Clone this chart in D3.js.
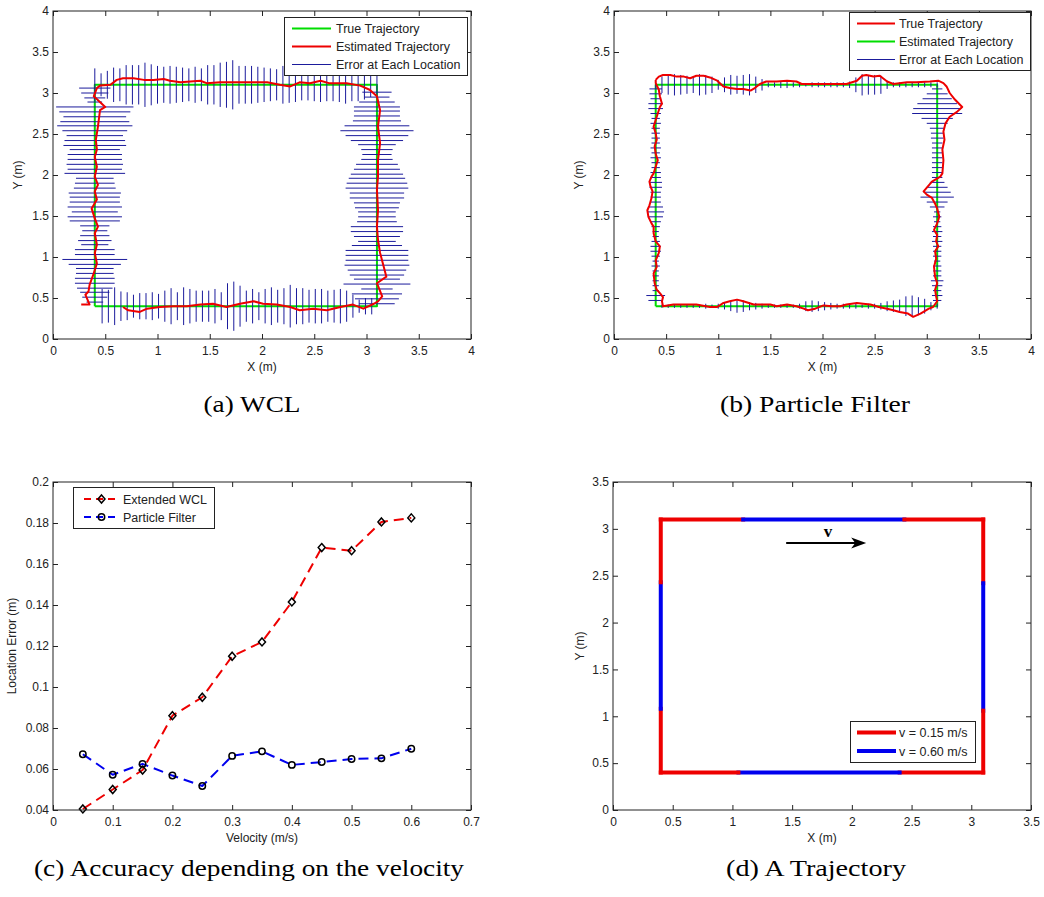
<!DOCTYPE html>
<html><head><meta charset="utf-8">
<script src="https://cdn.jsdelivr.net/npm/d3@7"></script>
<style>
body{margin:0;background:#fff;}
svg{display:block;}
</style></head><body>
<svg id="fig" width="1044" height="897"></svg>
<script>
// ---------- tick values / labels ----------
const squareTicks = [0, 0.5, 1, 1.5, 2, 2.5, 3, 3.5, 4];
const squareTickLabels = ["0", "0.5", "1", "1.5", "2", "2.5", "3", "3.5", "4"];
const dTicks = [0, 0.5, 1, 1.5, 2, 2.5, 3, 3.5];
const dTickLabels = ["0", "0.5", "1", "1.5", "2", "2.5", "3", "3.5"];
const cXTicks = [0, 0.1, 0.2, 0.3, 0.4, 0.5, 0.6, 0.7];
const cXTickLabels = ["0", "0.1", "0.2", "0.3", "0.4", "0.5", "0.6", "0.7"];
const cYTicks = [0.04, 0.06, 0.08, 0.10, 0.12, 0.14, 0.16, 0.18, 0.20];
const cYTickLabels = ["0.04", "0.06", "0.08", "0.1", "0.12", "0.14", "0.16", "0.18", "0.2"];

// ---------- panel (a) WCL ----------
const aTrueX = [0.4, 0.4, 3.1, 3.1, 0.4];
const aTrueY = [0.4, 3.1, 3.1, 0.4, 0.4];
const aEstimated = [[0.27,0.42],[0.35,0.42],[0.31,0.54],[0.34,0.58],[0.35,0.66],[0.39,0.80],[0.42,0.92],[0.40,1.05],[0.42,1.15],[0.40,1.29],
 [0.43,1.37],[0.40,1.47],[0.37,1.59],[0.42,1.70],[0.40,1.80],[0.43,1.88],[0.40,1.98],[0.42,2.10],[0.40,2.22],[0.42,2.31],
 [0.41,2.43],[0.43,2.59],[0.45,2.79],[0.50,2.83],[0.39,2.96],[0.42,3.06],[0.45,3.09],[0.55,3.10],[0.61,3.16],[0.67,3.18],
 [0.77,3.18],[0.87,3.16],[0.96,3.16],[1.06,3.17],[1.12,3.15],[1.22,3.13],[1.41,3.15],[1.47,3.12],[1.60,3.13],[1.73,3.13],
 [1.89,3.13],[2.05,3.13],[2.17,3.10],[2.27,3.08],[2.36,3.13],[2.46,3.12],[2.56,3.15],[2.64,3.12],[2.81,3.12],[2.94,3.09],
 [3.03,3.04],[3.10,2.96],[3.13,2.79],[3.11,2.59],[3.13,2.39],[3.11,2.18],[3.11,1.98],[3.10,1.82],[3.11,1.57],[3.10,1.37],
 [3.11,1.21],[3.13,1.05],[3.19,0.76],[3.10,0.68],[3.15,0.52],[3.11,0.46],[3.07,0.43],[2.97,0.37],[2.87,0.42],[2.75,0.39],
 [2.62,0.35],[2.49,0.37],[2.36,0.35],[2.27,0.39],[2.14,0.42],[2.01,0.43],[1.92,0.46],[1.79,0.43],[1.66,0.39],[1.53,0.43],
 [1.41,0.42],[1.28,0.40],[1.15,0.40],[1.02,0.39],[0.90,0.37],[0.83,0.33],[0.72,0.35],[0.67,0.39]];
const aTopBarX = [0.40,0.46,0.52,0.58,0.64,0.70,0.76,0.82,0.88,0.94,1.00,1.06,1.12,1.18,1.24,1.30,1.36,1.42,1.48,1.54,1.60,1.66,1.72,
 1.78,1.84,1.90,1.96,2.02,2.08,2.14,2.20,2.26,2.32,2.38,2.44,2.50,2.56,2.62,2.68,2.74,2.80,2.86,2.92,2.98,3.04,3.10];
const aTopBarErr = [0.20,0.14,0.17,0.21,0.20,0.24,0.24,0.24,0.27,0.25,0.23,0.22,0.23,0.22,0.21,0.20,0.22,0.20,0.24,0.24,0.27,0.28,0.30,
 0.23,0.23,0.23,0.22,0.21,0.20,0.19,0.23,0.22,0.21,0.19,0.19,0.20,0.21,0.20,0.20,0.21,0.23,0.20,0.20,0.18,0.15,0.13];
const aBottomBarX = [0.47,0.53,0.59,0.65,0.71,0.77,0.83,0.89,0.95,1.01,1.07,1.13,1.19,1.25,1.31,1.37,1.43,1.49,1.55,1.61,1.67,1.73,
 1.79,1.85,1.91,1.97,2.03,2.09,2.15,2.21,2.27,2.33,2.39,2.45,2.51,2.57,2.63,2.69,2.75,2.81,2.87,2.93,2.99,3.05];
const aBottomBarErr = [0.21,0.20,0.23,0.18,0.17,0.14,0.16,0.16,0.17,0.15,0.19,0.22,0.17,0.23,0.21,0.19,0.19,0.19,0.21,0.17,0.28,0.30,
 0.25,0.19,0.21,0.17,0.21,0.23,0.20,0.22,0.26,0.22,0.22,0.20,0.21,0.21,0.19,0.20,0.21,0.19,0.14,0.08,0.10,0.10];
const aLeftBarY = [3.06,3.00,2.94,2.89,2.83,2.77,2.71,2.65,2.60,2.54,2.48,2.42,2.36,2.31,2.25,2.19,2.13,2.07,2.02,1.96,1.90,1.84,1.78,
 1.73,1.67,1.61,1.55,1.49,1.44,1.38,1.32,1.26,1.20,1.15,1.09,1.03,0.97,0.91,0.86,0.80,0.74,0.68,0.62,0.57,0.51,0.45];
const aLeftBarErr = [0.15,0.13,0.10,0.07,0.37,0.34,0.30,0.33,0.36,0.31,0.27,0.29,0.30,0.24,0.26,0.26,0.27,0.26,0.29,0.18,0.19,0.20,0.25,
 0.24,0.24,0.26,0.22,0.26,0.24,0.14,0.12,0.14,0.16,0.13,0.19,0.19,0.31,0.25,0.18,0.18,0.19,0.19,0.17,0.14,0.12,0.08];
const aRightBarY = [3.01,2.95,2.89,2.83,2.78,2.72,2.66,2.60,2.54,2.48,2.42,2.37,2.31,2.25,2.19,2.13,2.07,2.01,1.96,1.90,1.84,1.78,1.72,
 1.66,1.60,1.55,1.49,1.43,1.37,1.31,1.25,1.19,1.14,1.08,1.02,0.96,0.90,0.84,0.78,0.73,0.67,0.61,0.55,0.49,0.43];
const aRightBarErr = [0.14,0.12,0.17,0.22,0.22,0.22,0.23,0.31,0.35,0.30,0.25,0.18,0.15,0.14,0.15,0.20,0.22,0.25,0.27,0.29,0.30,0.26,0.26,
 0.22,0.21,0.18,0.18,0.19,0.25,0.25,0.22,0.18,0.24,0.30,0.30,0.30,0.31,0.28,0.26,0.22,0.32,0.15,0.24,0.21,0.17];
const aLegend = ["True Trajectory", "Estimated Trajectory", "Error at Each Location"];

// ---------- panel (b) Particle Filter ----------
const bGreenX = [0.4, 0.4, 3.1, 3.1, 0.4];
const bGreenY = [0.4, 3.1, 3.1, 0.4, 0.4];
const bRedPath = [[0.40,3.16],[0.43,3.20],[0.47,3.22],[0.54,3.22],[0.60,3.20],[0.67,3.20],[0.73,3.18],[0.79,3.21],[0.86,3.21],[0.92,3.19],
 [0.99,3.15],[1.05,3.08],[1.11,3.06],[1.18,3.05],[1.24,3.05],[1.31,3.03],[1.35,3.06],[1.40,3.11],[1.46,3.14],[1.56,3.14],
 [1.66,3.15],[1.75,3.14],[1.80,3.11],[2.01,3.11],[2.23,3.11],[2.33,3.15],[2.38,3.21],[2.42,3.22],[2.49,3.20],[2.55,3.21],
 [2.58,3.18],[2.62,3.14],[2.68,3.11],[2.81,3.13],[2.90,3.13],[3.03,3.14],[3.11,3.15],[3.16,3.12],[3.19,3.08],[3.22,3.00],
 [3.27,2.92],[3.34,2.83],[3.29,2.77],[3.22,2.71],[3.18,2.63],[3.16,2.53],[3.17,2.43],[3.15,2.31],[3.16,2.18],[3.15,2.02],
 [3.13,1.98],[3.05,1.92],[2.97,1.80],[3.00,1.76],[3.05,1.72],[3.08,1.65],[3.10,1.59],[3.12,1.49],[3.10,1.41],[3.07,1.33],
 [3.10,1.27],[3.09,1.19],[3.11,1.13],[3.08,1.07],[3.09,0.98],[3.07,0.88],[3.08,0.76],[3.10,0.68],[3.08,0.60],[3.09,0.52],
 [3.10,0.46],[3.06,0.39],[3.02,0.37],[2.94,0.31],[2.87,0.27],[2.82,0.31],[2.74,0.33],[2.68,0.35],[2.62,0.37],[2.54,0.39],
 [2.46,0.42],[2.39,0.43],[2.33,0.44],[2.23,0.42],[2.17,0.40],[2.09,0.40],[2.01,0.41],[1.93,0.37],[1.86,0.35],[1.82,0.37],
 [1.75,0.40],[1.66,0.42],[1.56,0.40],[1.50,0.42],[1.40,0.42],[1.34,0.42],[1.24,0.46],[1.18,0.48],[1.11,0.46],[1.05,0.44],
 [0.99,0.39],[0.92,0.39],[0.79,0.42],[0.67,0.42],[0.57,0.42],[0.47,0.40],[0.46,0.46],[0.47,0.51],[0.44,0.56],[0.41,0.60],
 [0.39,0.68],[0.38,0.80],[0.41,0.88],[0.40,0.96],[0.43,1.05],[0.44,1.13],[0.40,1.19],[0.38,1.29],[0.38,1.37],[0.36,1.41],
 [0.33,1.49],[0.32,1.57],[0.34,1.63],[0.36,1.72],[0.37,1.80],[0.35,1.86],[0.34,1.92],[0.36,1.98],[0.38,2.02],[0.40,2.10],
 [0.42,2.18],[0.40,2.26],[0.39,2.35],[0.41,2.43],[0.40,2.51],[0.38,2.59],[0.40,2.67],[0.42,2.75],[0.44,2.83],[0.46,2.87],
 [0.44,2.96],[0.43,3.04],[0.40,3.12],[0.40,3.16]];
const bTopBarX = [0.40,0.46,0.52,0.58,0.64,0.70,0.76,0.82,0.88,0.94,1.00,1.06,1.12,1.18,1.24,1.30,1.36,1.42,1.48,1.54,1.60,1.66,1.72,
 1.78,1.84,1.90,1.96,2.02,2.08,2.14,2.20,2.26,2.32,2.38,2.44,2.50,2.56,2.62,2.68,2.74,2.80,2.86,2.92,2.98,3.04,3.10];
const bTopBarErr = [0.05,0.10,0.12,0.13,0.12,0.11,0.10,0.13,0.12,0.10,0.06,0.09,0.12,0.11,0.12,0.13,0.10,0.07,0.03,0.03,0.04,0.04,0.03,
 0.03,0.02,0.03,0.03,0.03,0.03,0.03,0.03,0.04,0.09,0.13,0.12,0.12,0.11,0.05,0.03,0.03,0.03,0.03,0.03,0.03,0.03,0.03];
const bBottomBarX = [0.46,0.52,0.58,0.64,0.70,0.76,0.82,0.88,0.94,1.00,1.06,1.12,1.18,1.24,1.30,1.36,1.42,1.48,1.54,1.60,1.66,1.72,
 1.78,1.84,1.90,1.96,2.02,2.08,2.14,2.20,2.26,2.32,2.38,2.44,2.50,2.56,2.62,2.68,2.74,2.80,2.86,2.92,2.98,3.04,3.10];
const bBottomBarErr = [0.02,0.02,0.02,0.02,0.02,0.02,0.02,0.03,0.02,0.03,0.04,0.06,0.08,0.07,0.05,0.04,0.03,0.02,0.02,0.02,0.02,0.02,
 0.03,0.06,0.07,0.06,0.05,0.04,0.03,0.03,0.03,0.03,0.02,0.03,0.03,0.04,0.06,0.07,0.08,0.12,0.13,0.11,0.09,0.05,0.03];
const bSideBarY = [3.05,2.99,2.93,2.87,2.81,2.75,2.69,2.63,2.57,2.51,2.45,2.39,2.33,2.27,2.21,2.15,2.09,2.03,1.97,1.91,1.85,1.79,
 1.73,1.67,1.61,1.55,1.49,1.43,1.37,1.31,1.25,1.19,1.13,1.07,1.01,0.95,0.89,0.83,0.77,0.71,0.65,0.59,0.53,0.47];
const bLeftBarErr = [0.06,0.06,0.05,0.07,0.07,0.05,0.04,0.05,0.04,0.04,0.04,0.04,0.05,0.04,0.05,0.04,0.04,0.05,0.05,0.06,0.06,0.05,
 0.05,0.05,0.07,0.08,0.07,0.05,0.04,0.03,0.03,0.04,0.05,0.05,0.04,0.03,0.04,0.03,0.03,0.03,0.03,0.03,0.09,0.07];
const bRightBarErr = [0.05,0.10,0.14,0.19,0.23,0.24,0.15,0.10,0.07,0.06,0.06,0.05,0.05,0.05,0.05,0.05,0.05,0.05,0.05,0.07,0.10,0.13,
 0.16,0.10,0.07,0.03,0.04,0.03,0.04,0.05,0.04,0.05,0.04,0.04,0.04,0.03,0.04,0.04,0.04,0.06,0.05,0.04,0.05,0.04];
const bLegend = ["True Trajectory", "Estimated Trajectory", "Error at Each Location"];

// ---------- panel (c) accuracy vs velocity ----------
const velocity = [0.05, 0.10, 0.15, 0.20, 0.25, 0.30, 0.35, 0.40, 0.45, 0.50, 0.55, 0.60];
const errWCL = [0.0405, 0.0500, 0.0595, 0.0860, 0.0950, 0.1150, 0.1220, 0.1415, 0.1680, 0.1665, 0.1805, 0.1825];
const errPF = [0.0672, 0.0572, 0.0625, 0.0568, 0.0517, 0.0664, 0.0686, 0.0620, 0.0634, 0.0649, 0.0652, 0.0699];
const cLegend = ["Extended WCL", "Particle Filter"];

// ---------- panel (d) trajectory ----------
const dSegStart = [[0.4,3.1],[1.09,3.1],[2.44,3.1],[3.1,3.1],[3.1,2.42],[3.1,1.06],[3.1,0.4],[2.40,0.4],[1.05,0.4],[0.4,0.4],[0.4,1.08],[0.4,2.43]];
const dSegEnd = [[1.09,3.1],[2.44,3.1],[3.1,3.1],[3.1,2.42],[3.1,1.06],[3.1,0.4],[2.40,0.4],[1.05,0.4],[0.4,0.4],[0.4,1.08],[0.4,2.43],[0.4,3.1]];
const dSegSpeed = [0.15, 0.60, 0.15, 0.15, 0.60, 0.15, 0.15, 0.60, 0.15, 0.15, 0.60, 0.15];
const dSpeeds = [0.15, 0.60];
const dLegend = ["v = 0.15 m/s", "v = 0.60 m/s"];
const dArrowX = [1.45, 2.12];
const dArrowY = [2.85, 2.85];
const dArrowLabel = {text: "v", x: 1.80, y: 2.97};

const captions = ["(a) WCL", "(b) Particle Filter", "(c) Accuracy depending on the velocity", "(d) A Trajectory"];

// ================= drawing =================
const SANS = '"Liberation Sans", Arial, Helvetica, sans-serif';
const SERIF = '"Liberation Serif", "Times New Roman", serif';
const RED = "#ee0000", GREEN = "#00dd00", BLUE_BAR = "#1b1b9c", BLUE = "#0000ee";
const svg = d3.select("#fig");
svg.append("rect").attr("width", 1044).attr("height", 897).attr("fill", "#fff");

function makeAxes(cfg) {
  const g = svg.append("g");
  const x = d3.scaleLinear().domain(cfg.xDomain).range([cfg.left, cfg.right]);
  const y = d3.scaleLinear().domain(cfg.yDomain).range([cfg.bottom, cfg.top]);
  const plot = g.append("g");
  return {g, x, y, plot, cfg};
}
function finishAxes(p) {
  const {g, x, y, cfg} = p;
  const style = s => s.call(a => a.select(".domain").remove())
    .call(a => a.selectAll(".tick line").attr("stroke", "#222"))
    .call(a => a.selectAll(".tick text").attr("fill", "#222").style("font-family", SANS).style("font-size", "12px"));
  g.append("g").attr("transform", `translate(0,${cfg.bottom})`)
    .call(d3.axisBottom(x).tickValues(cfg.xTicks).tickFormat((d, i) => cfg.xTickLabels[i]).tickSize(-5).tickPadding(7)).call(style);
  g.append("g").attr("transform", `translate(0,${cfg.top})`)
    .call(d3.axisTop(x).tickValues(cfg.xTicks).tickFormat("").tickSize(-5)).call(style);
  g.append("g").attr("transform", `translate(${cfg.left},0)`)
    .call(d3.axisLeft(y).tickValues(cfg.yTicks).tickFormat((d, i) => cfg.yTickLabels[i]).tickSize(-5).tickPadding(4)).call(style);
  g.append("g").attr("transform", `translate(${cfg.right},0)`)
    .call(d3.axisRight(y).tickValues(cfg.yTicks).tickFormat("").tickSize(-5)).call(style);
  g.append("rect").attr("x", cfg.left).attr("y", cfg.top).attr("width", cfg.right - cfg.left)
    .attr("height", cfg.bottom - cfg.top).attr("fill", "none").attr("stroke", "#222");
  g.append("text").attr("x", (cfg.left + cfg.right) / 2).attr("y", cfg.bottom + 32)
    .attr("text-anchor", "middle").style("font-family", SANS).style("font-size", "12px").attr("fill", "#222").text(cfg.xLabel);
  g.append("text").attr("transform", `translate(${cfg.yLabelX},${(cfg.top + cfg.bottom) / 2}) rotate(-90)`)
    .attr("text-anchor", "middle").attr("dy", "0.35em").style("font-family", SANS).style("font-size", "12px").attr("fill", "#222").text(cfg.yLabel);
}
function legendBox(p, box, entries, sample, textX, fontSize) {
  const lg = p.g.append("g");
  lg.append("rect").attr("x", box[0]).attr("y", box[1]).attr("width", box[2]).attr("height", box[3])
    .attr("fill", "#fff").attr("stroke", "#222");
  entries.forEach(e => {
    lg.append("line").attr("x1", sample[0]).attr("x2", sample[1]).attr("y1", e.y).attr("y2", e.y)
      .attr("stroke", e.color).attr("stroke-width", e.width).attr("stroke-dasharray", e.dash || null);
    if (e.marker) drawMarker(lg, e.marker, (sample[0] + sample[1]) / 2, e.y);
    lg.append("text").attr("x", textX).attr("y", e.y).attr("dy", "0.36em")
      .style("font-family", SANS).style("font-size", fontSize + "px").attr("fill", "#222").text(e.label);
  });
}
function drawMarker(g, type, cx, cy) {
  if (type === "diamond") {
    g.append("path").attr("d", `M${cx},${cy - 4}L${cx + 3.5},${cy}L${cx},${cy + 4}L${cx - 3.5},${cy}Z`)
      .attr("fill", "none").attr("stroke", "#000").attr("stroke-width", 1.5);
  } else {
    g.append("circle").attr("cx", cx).attr("cy", cy).attr("r", 3.2)
      .attr("fill", "none").attr("stroke", "#000").attr("stroke-width", 1.5);
  }
}
function vBars(p, xs, errs, cy) {
  p.plot.append("g").selectAll("line").data(d3.zip(xs, errs)).join("line")
    .attr("x1", d => p.x(d[0])).attr("x2", d => p.x(d[0]))
    .attr("y1", d => p.y(cy - d[1])).attr("y2", d => p.y(cy + d[1]))
    .attr("stroke", BLUE_BAR).attr("stroke-width", 1);
}
function hBars(p, ys, errs, cx) {
  p.plot.append("g").selectAll("line").data(d3.zip(ys, errs)).join("line")
    .attr("y1", d => p.y(d[0])).attr("y2", d => p.y(d[0]))
    .attr("x1", d => p.x(cx - d[1])).attr("x2", d => p.x(cx + d[1]))
    .attr("stroke", BLUE_BAR).attr("stroke-width", 1);
}
function path(p, pts, color, width, dash) {
  const line = d3.line().x(d => p.x(d[0])).y(d => p.y(d[1]));
  p.plot.append("path").attr("d", line(pts)).attr("fill", "none").attr("stroke", color)
    .attr("stroke-width", width).attr("stroke-linejoin", "round").attr("stroke-dasharray", dash || null);
}

// ----- (a)
const pa = makeAxes({left: 53, right: 471, top: 11, bottom: 339, xDomain: [0, 4], yDomain: [0, 4],
  xTicks: squareTicks, xTickLabels: squareTickLabels, yTicks: squareTicks, yTickLabels: squareTickLabels,
  xLabel: "X (m)", yLabel: "Y (m)", yLabelX: 18});
{
  const cx0 = d3.min(aTrueX), cx1 = d3.max(aTrueX), cy0 = d3.min(aTrueY), cy1 = d3.max(aTrueY);
  path(pa, d3.zip(aTrueX, aTrueY), GREEN, 2);
  vBars(pa, aTopBarX, aTopBarErr, cy1);
  vBars(pa, aBottomBarX, aBottomBarErr, cy0);
  hBars(pa, aLeftBarY, aLeftBarErr, cx0);
  hBars(pa, aRightBarY, aRightBarErr, cx1);
  path(pa, aEstimated, RED, 2);
}
finishAxes(pa);
legendBox(pa, [284.5, 17.5, 183, 58], [
  {label: aLegend[0], color: GREEN, width: 2, y: 28.5},
  {label: aLegend[1], color: RED, width: 2, y: 46.5},
  {label: aLegend[2], color: BLUE_BAR, width: 1, y: 64.5}], [292, 331], 336, 12.5);

// ----- (b)
const pb = makeAxes({left: 614, right: 1031, top: 11, bottom: 339, xDomain: [0, 4], yDomain: [0, 4],
  xTicks: squareTicks, xTickLabels: squareTickLabels, yTicks: squareTicks, yTickLabels: squareTickLabels,
  xLabel: "X (m)", yLabel: "Y (m)", yLabelX: 579});
{
  const cx0 = d3.min(bGreenX), cx1 = d3.max(bGreenX), cy0 = d3.min(bGreenY), cy1 = d3.max(bGreenY);
  path(pb, d3.zip(bGreenX, bGreenY), GREEN, 2);
  vBars(pb, bTopBarX, bTopBarErr, cy1);
  vBars(pb, bBottomBarX, bBottomBarErr, cy0);
  hBars(pb, bSideBarY, bLeftBarErr, cx0);
  hBars(pb, bSideBarY, bRightBarErr, cx1);
  path(pb, bRedPath, RED, 2);
}
finishAxes(pb);
legendBox(pb, [849.5, 12.5, 181, 58], [
  {label: bLegend[0], color: RED, width: 2, y: 23.5},
  {label: bLegend[1], color: GREEN, width: 2, y: 41.5},
  {label: bLegend[2], color: BLUE_BAR, width: 1, y: 59.5}], [857, 895], 899, 12.5);

// ----- (c)
const pc = makeAxes({left: 53, right: 471, top: 482, bottom: 810, xDomain: [0, 0.7], yDomain: [0.04, 0.2],
  xTicks: cXTicks, xTickLabels: cXTickLabels, yTicks: cYTicks, yTickLabels: cYTickLabels,
  xLabel: "Velocity (m/s)", yLabel: "Location Error (m)", yLabelX: 12});
path(pc, d3.zip(velocity, errWCL), RED, 2, "10,6");
path(pc, d3.zip(velocity, errPF), BLUE, 2, "10,6");
d3.zip(velocity, errWCL).forEach(d => drawMarker(pc.plot, "diamond", pc.x(d[0]), pc.y(d[1])));
d3.zip(velocity, errPF).forEach(d => drawMarker(pc.plot, "circle", pc.x(d[0]), pc.y(d[1])));
finishAxes(pc);
legendBox(pc, [73.5, 487.5, 141, 41], [
  {label: cLegend[0], color: RED, width: 2, dash: "7,5", marker: "diamond", y: 499},
  {label: cLegend[1], color: BLUE, width: 2, dash: "7,5", marker: "circle", y: 517}], [84, 119], 123, 12.5);

// ----- (d)
const pd = makeAxes({left: 613, right: 1031, top: 482, bottom: 810, xDomain: [0, 3.5], yDomain: [0, 3.5],
  xTicks: dTicks, xTickLabels: dTickLabels, yTicks: dTicks, yTickLabels: dTickLabels,
  xLabel: "X (m)", yLabel: "Y (m)", yLabelX: 580});
{
  const speedColor = d3.scaleOrdinal().domain(dSpeeds).range([RED, BLUE]);
  pd.plot.append("g").selectAll("line").data(d3.range(dSegStart.length)).join("line")
    .attr("x1", i => pd.x(dSegStart[i][0])).attr("y1", i => pd.y(dSegStart[i][1]))
    .attr("x2", i => pd.x(dSegEnd[i][0])).attr("y2", i => pd.y(dSegEnd[i][1]))
    .attr("stroke", i => speedColor(dSegSpeed[i])).attr("stroke-width", 4).attr("stroke-linecap", "square");
  const ax0 = pd.x(dArrowX[0]), ax1 = pd.x(dArrowX[1]), ay = pd.y(dArrowY[0]);
  pd.plot.append("line").attr("x1", ax0).attr("x2", ax1 - 8).attr("y1", ay).attr("y2", pd.y(dArrowY[1]))
    .attr("stroke", "#000").attr("stroke-width", 2);
  pd.plot.append("path").attr("d", `M${ax1},${ay}L${ax1 - 15},${ay - 5.5}L${ax1 - 11},${ay}L${ax1 - 15},${ay + 5.5}Z`).attr("fill", "#000");
  pd.plot.append("text").attr("x", pd.x(dArrowLabel.x)).attr("y", pd.y(dArrowLabel.y)).attr("dy", "0.3em")
    .attr("text-anchor", "middle").style("font-family", SERIF).style("font-weight", "bold").style("font-size", "17px").text(dArrowLabel.text);
  finishAxes(pd);
  legendBox(pd, [850.5, 721.5, 125, 41], [
    {label: dLegend[0], color: speedColor(dSpeeds[0]), width: 4, y: 732.5},
    {label: dLegend[1], color: speedColor(dSpeeds[1]), width: 4, y: 751}], [857, 896], 899, 12.5);
}

// ----- captions (Computer-Modern-like width via textLength)
const capPos = [[252, 412], [815, 412], [249, 876], [816, 876]];
const capWidth = [97, 190, 430, 180];
captions.forEach((c, i) => {
  svg.append("text").attr("x", capPos[i][0]).attr("y", capPos[i][1]).attr("text-anchor", "middle")
    .attr("textLength", capWidth[i]).attr("lengthAdjust", "spacingAndGlyphs")
    .style("font-family", SERIF).style("font-size", "24px").attr("fill", "#000").text(c);
});
</script>
</body></html>
